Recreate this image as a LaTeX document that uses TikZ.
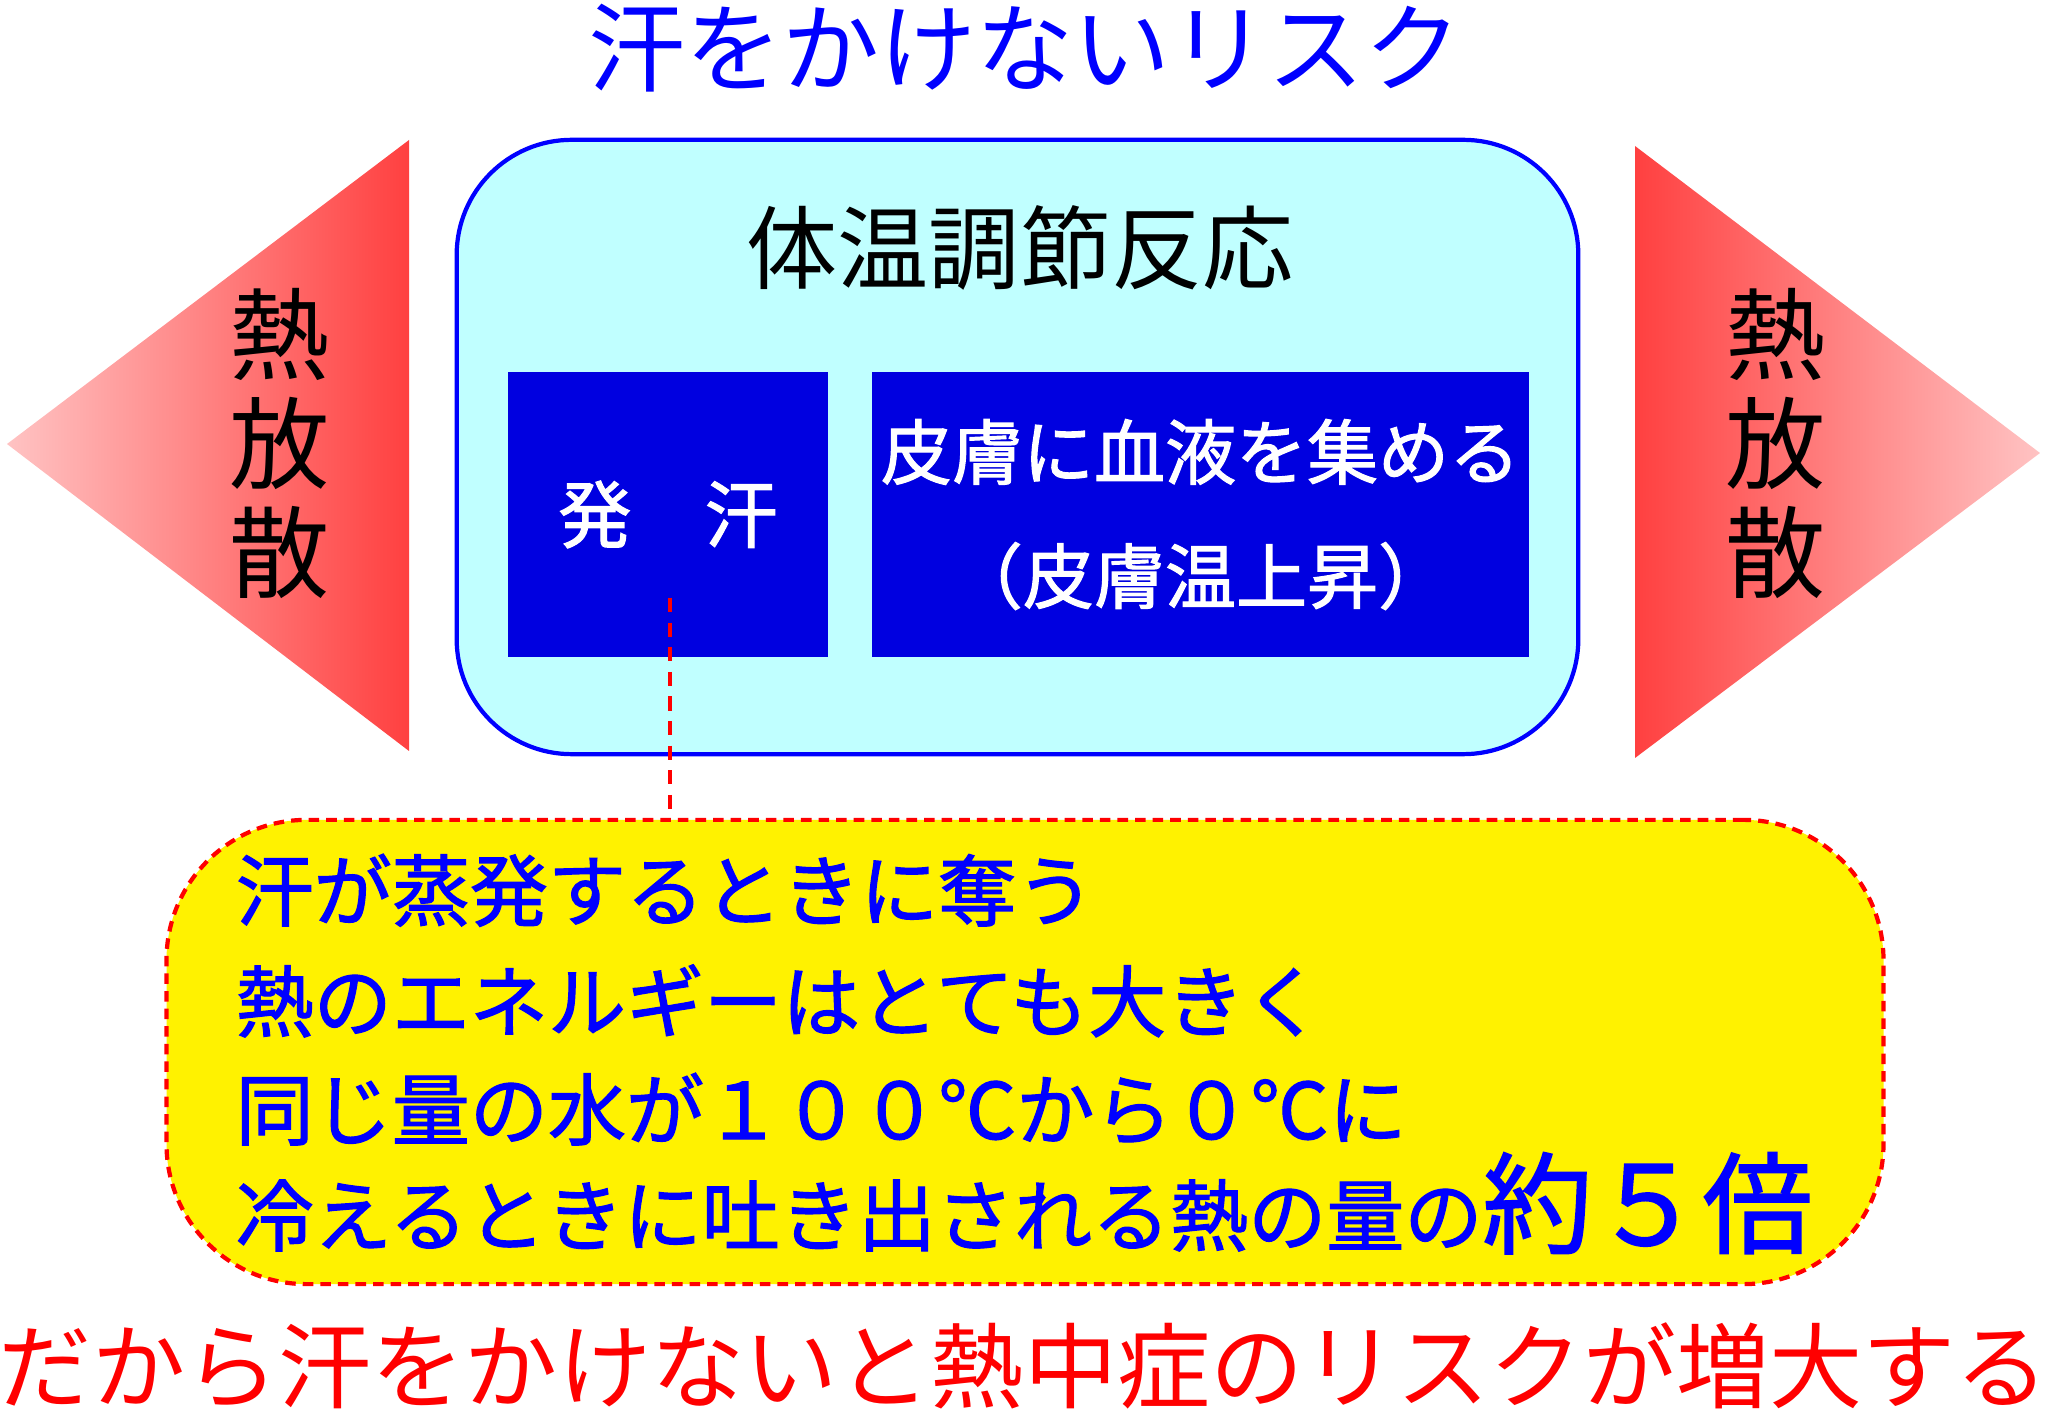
\documentclass[tikz,border=0pt]{standalone}
\usepackage{fontspec}
\setmainfont{Noto Sans CJK JP}
\newfontfamily\heavy[FakeBold=1.5]{Noto Sans CJK JP}
\usepackage{xcolor}
\usetikzlibrary{positioning}
\definecolor{heatred}{RGB}{255,64,64}
\definecolor{heatpink}{RGB}{255,195,195}
\definecolor{paleaqua}{RGB}{192,255,255}
\definecolor{deepblue}{RGB}{0,0,224}

\begin{document}
\begin{tikzpicture}[x=0.01cm, y=-0.01cm,
  cellbox/.style={fill=deepblue, inner sep=0pt, text=white, minimum height=2.85cm},
  heattext/.style={align=center, inner sep=0pt, font=\fontsize{28.5}{31}\selectfont},
  notetext/.style={anchor=base west, inner sep=0pt, text=blue, font=\heavy\fontsize{22.2}{26}\selectfont},
  bigline/.style={inner sep=0pt, font=\fontsize{27.6}{30}\selectfont}]
\useasboundingbox (0,0) rectangle (2048,1413);
\node[bigline, text=blue] (risk) at (1025,48) {汗をかけないリスク};
% heat release wedges
\shade[left color=heatpink, right color=heatred] (7,444) -- (409,140) -- (409,751) -- cycle;
\shade[left color=heatred, right color=heatpink] (1635,146) -- (2040,453) -- (1635,758) -- cycle;
\node[heattext] (heatL) at (280,444) {熱\\放\\散};
\node[heattext] (heatR) at (1776,444) {熱\\放\\散};
% thermoregulation panel
\node[draw=blue, line width=1.2pt, fill=paleaqua, rounded corners=1.15cm,
  minimum width=11.21cm, minimum height=6.14cm] (panel) at (1017.5,447) {};
\node[inner sep=0pt, font=\fontsize{25.9}{28}\selectfont] (paneltitle) at (1020,248) {体温調節反応};
\node[cellbox, minimum width=3.2cm, font=\heavy\fontsize{20.8}{24}\selectfont] (sweat) at (668,514.5) {発　汗};
\node[cellbox, minimum width=6.57cm, align=center, font=\heavy\fontsize{20.2}{35.3}\selectfont] (blood) at (1200.5,514.5)
  {皮膚に血液を集める\\（皮膚温上昇）};
% note
\node[draw=red, line width=1.2pt, dash pattern=on 3pt off 2pt, fill=yellow, rounded corners=1.4cm,
  minimum width=17.16cm, minimum height=4.64cm] (note) at (1025,1052) {};
\coordinate (tap) at (670,598);
\draw[red, line width=1.2pt, dash pattern=on 4pt off 3pt] (tap) -- (tap |- note.north);
\node[notetext] (line1) at (235,920) {汗が蒸発するときに奪う};
\node[notetext] (line2) at (235,1031) {熱のエネルギーはとても大きく};
\node[notetext] (line3) at (235,1139) {同じ量の水が１００℃から０℃に};
\node[notetext] (line4) at (235,1245) {冷えるときに吐き出される熱の量の{\fontsize{31.3}{34}\selectfont 約５倍}};
\node[bigline, text=red, font=\fontsize{26.5}{30}\selectfont] (verdict) at (1024,1366) {だから汗をかけないと熱中症のリスクが増大する};
\end{tikzpicture}
\end{document}
